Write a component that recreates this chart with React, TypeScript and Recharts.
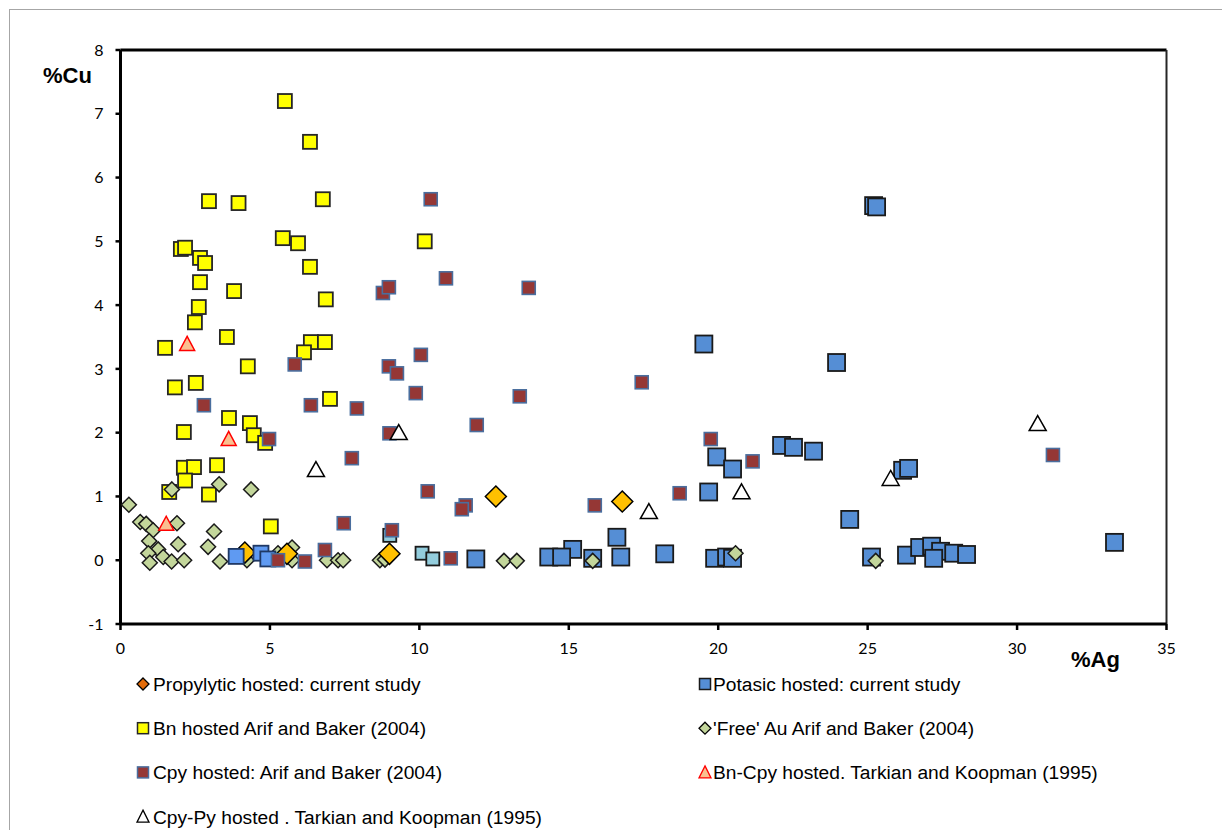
import { ScatterChart, Scatter, XAxis, YAxis, ReferenceLine, Legend, Label } from 'recharts';

// %Ag (x) vs %Cu (y) per mineral host group
const propylytic = [
  { x: 12.56, y: 1.0 }, { x: 16.79, y: 0.92 }, { x: 9.0, y: 0.1 }, { x: 4.16, y: 0.12 }, { x: 5.57, y: 0.1 },
];

const potasic = [
  { x: 25.2, y: 5.56 }, { x: 25.3, y: 5.54 }, { x: 19.52, y: 3.39 }, { x: 23.96, y: 3.1 },
  { x: 22.12, y: 1.8 }, { x: 22.52, y: 1.77 }, { x: 23.19, y: 1.71 }, { x: 19.95, y: 1.62 },
  { x: 20.48, y: 1.43 }, { x: 26.17, y: 1.41 }, { x: 26.37, y: 1.44 }, { x: 19.68, y: 1.07 },
  { x: 24.4, y: 0.64 }, { x: 16.61, y: 0.36 }, { x: 33.26, y: 0.28 }, { x: 16.74, y: 0.05 },
  { x: 18.21, y: 0.1 }, { x: 15.13, y: 0.17 }, { x: 14.33, y: 0.05 }, { x: 14.76, y: 0.05 },
  { x: 15.8, y: 0.03 }, { x: 11.89, y: 0.02 }, { x: 19.88, y: 0.03 }, { x: 20.28, y: 0.05 },
  { x: 20.48, y: 0.03 }, { x: 25.13, y: 0.05 }, { x: 26.3, y: 0.08 }, { x: 26.74, y: 0.2 },
  { x: 27.14, y: 0.22 }, { x: 27.44, y: 0.14 }, { x: 27.88, y: 0.11 }, { x: 28.31, y: 0.09 },
  { x: 27.21, y: 0.03 },
];

const potasicBright = [
  { x: 3.87, y: 0.06 }, { x: 4.7, y: 0.11 }, { x: 4.93, y: 0.02 },
];

const potasicLight = [
  { x: 10.09, y: 0.11 }, { x: 10.45, y: 0.02 }, { x: 9.01, y: 0.39 },
];

const bnArif = [
  { x: 5.5, y: 7.2 }, { x: 6.34, y: 6.56 }, { x: 2.96, y: 5.63 }, { x: 3.95, y: 5.6 },
  { x: 6.77, y: 5.66 }, { x: 5.43, y: 5.05 }, { x: 5.94, y: 4.97 }, { x: 10.18, y: 5.0 },
  { x: 2.02, y: 4.88 }, { x: 2.16, y: 4.9 }, { x: 2.66, y: 4.74 }, { x: 2.83, y: 4.66 },
  { x: 2.66, y: 4.36 }, { x: 6.34, y: 4.6 }, { x: 2.62, y: 3.97 }, { x: 3.8, y: 4.22 },
  { x: 6.87, y: 4.09 }, { x: 2.49, y: 3.73 }, { x: 1.49, y: 3.33 }, { x: 3.56, y: 3.5 },
  { x: 6.37, y: 3.42 }, { x: 6.84, y: 3.42 }, { x: 6.14, y: 3.26 }, { x: 4.26, y: 3.04 },
  { x: 1.82, y: 2.71 }, { x: 2.52, y: 2.78 }, { x: 7.01, y: 2.53 }, { x: 3.63, y: 2.23 },
  { x: 4.33, y: 2.15 }, { x: 2.12, y: 2.01 }, { x: 4.46, y: 1.96 }, { x: 4.84, y: 1.84 },
  { x: 2.12, y: 1.45 }, { x: 2.46, y: 1.46 }, { x: 3.23, y: 1.49 }, { x: 2.16, y: 1.25 },
  { x: 1.63, y: 1.07 }, { x: 2.96, y: 1.03 }, { x: 5.03, y: 0.53 },
];

const freeAu = [
  { x: 0.28, y: 0.87 }, { x: 0.66, y: 0.6 }, { x: 0.86, y: 0.57 }, { x: 1.09, y: 0.47 },
  { x: 0.96, y: 0.3 }, { x: 1.26, y: 0.17 }, { x: 0.93, y: 0.11 }, { x: 1.43, y: 0.05 },
  { x: 0.98, y: -0.04 }, { x: 1.71, y: -0.02 }, { x: 2.13, y: 0.0 }, { x: 1.89, y: 0.58 },
  { x: 1.93, y: 0.25 }, { x: 1.72, y: 1.11 }, { x: 3.3, y: 1.19 }, { x: 4.37, y: 1.11 },
  { x: 3.13, y: 0.45 }, { x: 2.93, y: 0.21 }, { x: 3.33, y: -0.02 }, { x: 5.74, y: 0.2 },
  { x: 5.27, y: 0.11 }, { x: 5.74, y: 0.0 }, { x: 4.23, y: 0.0 }, { x: 6.91, y: 0.0 },
  { x: 7.28, y: 0.0 }, { x: 7.45, y: 0.0 }, { x: 8.68, y: 0.0 }, { x: 8.85, y: 0.01 },
  { x: 12.83, y: -0.01 }, { x: 13.26, y: -0.01 }, { x: 15.8, y: -0.01 }, { x: 20.58, y: 0.11 },
  { x: 25.27, y: -0.01 },
];

const cpyArif = [
  { x: 10.38, y: 5.66 }, { x: 10.89, y: 4.42 }, { x: 13.66, y: 4.27 }, { x: 8.78, y: 4.19 },
  { x: 8.98, y: 4.28 }, { x: 10.05, y: 3.22 }, { x: 5.83, y: 3.07 }, { x: 8.98, y: 3.04 },
  { x: 9.25, y: 2.93 }, { x: 9.88, y: 2.62 }, { x: 17.44, y: 2.79 }, { x: 13.36, y: 2.57 },
  { x: 2.79, y: 2.43 }, { x: 6.37, y: 2.43 }, { x: 7.91, y: 2.38 }, { x: 11.92, y: 2.12 },
  { x: 9.0, y: 1.99 }, { x: 4.97, y: 1.9 }, { x: 19.75, y: 1.9 }, { x: 21.15, y: 1.55 },
  { x: 7.74, y: 1.6 }, { x: 10.28, y: 1.08 }, { x: 18.71, y: 1.05 }, { x: 15.87, y: 0.86 },
  { x: 11.55, y: 0.86 }, { x: 11.42, y: 0.8 }, { x: 7.47, y: 0.58 }, { x: 9.08, y: 0.47 },
  { x: 6.84, y: 0.16 }, { x: 11.05, y: 0.03 }, { x: 6.17, y: -0.02 }, { x: 5.27, y: 0.0 },
  { x: 31.2, y: 1.65 },
];

const bnCpyTarkian = [
  { x: 2.23, y: 3.4 }, { x: 3.62, y: 1.91 }, { x: 1.53, y: 0.58 },
];

const cpyPyTarkian = [
  { x: 9.31, y: 2.01 }, { x: 6.54, y: 1.43 }, { x: 17.68, y: 0.77 },
  { x: 20.78, y: 1.08 }, { x: 25.77, y: 1.29 }, { x: 30.69, y: 2.15 },
];

const xTicks = [0, 5, 10, 15, 20, 25, 30, 35];
const yTicks = [-1, 0, 1, 2, 3, 4, 5, 6, 7, 8];

const legendItems = [
  { name: 'Propylytic hosted: current study', kind: 'diamond', fill: '#e46c0a', stroke: '#000' },
  { name: 'Potasic hosted: current study', kind: 'square', fill: '#558ed5', stroke: '#1a1a1a' },
  { name: 'Bn hosted Arif and Baker (2004)', kind: 'square', fill: '#ffff00', stroke: '#262626' },
  { name: "'Free' Au Arif and Baker (2004)", kind: 'diamond', fill: '#c3d69b', stroke: '#000' },
  { name: 'Cpy hosted: Arif and Baker (2004)', kind: 'square', fill: '#953735', stroke: '#4a6e9e' },
  { name: 'Bn-Cpy hosted. Tarkian and Koopman (1995)', kind: 'triangle', fill: '#fac090', stroke: '#ff0000' },
  { name: 'Cpy-Py hosted . Tarkian and Koopman (1995)', kind: 'triangle', fill: '#ffffff', stroke: '#000' },
];

const square = (size: number, fill: string, stroke: string, sw: number) => (p: any) => {
  if (p.cx == null) return <g />;
  return (
    <rect x={p.cx - size / 2} y={p.cy - size / 2} width={size} height={size}
      fill={fill} stroke={stroke} strokeWidth={sw} />
  );
};

const diamond = (r: number, fill: string, stroke: string, sw: number) => (p: any) => {
  if (p.cx == null) return <g />;
  const { cx, cy } = p;
  return (
    <polygon points={`${cx},${cy - r} ${cx + r},${cy} ${cx},${cy + r} ${cx - r},${cy}`}
      fill={fill} stroke={stroke} strokeWidth={sw} strokeLinejoin="miter" />
  );
};

const triangle = (w: number, h: number, fill: string, stroke: string, sw: number) => (p: any) => {
  if (p.cx == null) return <g />;
  const { cx, cy } = p;
  return (
    <polygon points={`${cx},${cy - h / 2} ${cx + w / 2},${cy + h / 2} ${cx - w / 2},${cy + h / 2}`}
      fill={fill} stroke={stroke} strokeWidth={sw} />
  );
};

function legendMarker(kind: string, x: number, y: number, fill: string, stroke: string) {
  if (kind === 'square') {
    return <rect x={x - 5.5} y={y - 5.5} width={11} height={11} fill={fill} stroke={stroke} strokeWidth={1.5} />;
  }
  if (kind === 'diamond') {
    return <polygon points={`${x},${y - 6} ${x + 6},${y} ${x},${y + 6} ${x - 6},${y}`} fill={fill} stroke={stroke} strokeWidth={1.3} />;
  }
  return <polygon points={`${x},${y - 6.5} ${x + 6},${y + 5.5} ${x - 6},${y + 5.5}`} fill={fill} stroke={stroke} strokeWidth={1.3} />;
}

const renderLegend = () => (
  <svg width={1210} height={170} style={{ display: 'block' }}>
    {legendItems.map((item, i) => {
      const col = i % 2;
      const row = Math.floor(i / 2);
      const base = 21 + row * 44.2;
      const mx = col === 0 ? 133 : 695;
      const tx = col === 0 ? 143 : 703;
      return (
        <g key={item.name}>
          {legendMarker(item.kind, mx, base - 7, item.fill, item.stroke)}
          <text x={tx} y={base} fontFamily="'Liberation Sans', Arial, sans-serif" fontSize={19.2} fill="#000">
            {item.name}
          </text>
        </g>
      );
    })}
  </svg>
);

const tickStyle = { fill: '#000', fontSize: 16, fontFamily: 'Lato, sans-serif' };

export default function App() {
  return (
    <div
      style={{
        position: 'absolute', left: 9, top: 9, width: 1212, height: 820,
        borderLeft: '1px solid #a6a6a6', borderTop: '1px solid #a6a6a6', background: '#fff',
      }}
    >
      <ScatterChart width={1210} height={820} margin={{ top: 40, right: 53.5, left: 0.5, bottom: 176 }}>
        <XAxis
          type="number" dataKey="x" domain={[0, 35]} ticks={xTicks} allowDataOverflow
          height={30} tickSize={6} tickMargin={13} tick={tickStyle}
          axisLine={{ stroke: '#000', strokeWidth: 3 }} tickLine={{ stroke: '#000', strokeWidth: 2.5 }}
        >
          <Label
            content={() => (
              <text x={1061} y={657} fontFamily="'Liberation Sans', Arial, sans-serif" fontWeight="bold" fontSize={22} fill="#000">
                %Ag
              </text>
            )}
          />
        </XAxis>
        <YAxis
          type="number" dataKey="y" domain={[-1, 8]} ticks={yTicks} allowDataOverflow
          width={110} tickSize={5} tickMargin={12} tick={tickStyle}
          axisLine={{ stroke: '#000', strokeWidth: 3 }} tickLine={{ stroke: '#000', strokeWidth: 2.5 }}
        >
          <Label
            content={() => (
              <text x={33} y={73} fontFamily="'Liberation Sans', Arial, sans-serif" fontWeight="bold" fontSize={22} fill="#000">
                %Cu
              </text>
            )}
          />
        </YAxis>
        <ReferenceLine y={8} stroke="#000" strokeWidth={3} />
        <ReferenceLine x={35} stroke="#262626" strokeWidth={2} />
        <Legend layout="horizontal" verticalAlign="middle" align="center" content={renderLegend}
          wrapperStyle={{ top: 660, left: 0, width: 1210, height: 170 }} />
        <Scatter name="Potasic hosted: current study" data={potasic} isAnimationActive={false}
          shape={square(17, '#558ed5', '#1a1a1a', 1.8)} />
        <Scatter name="Potasic light" data={potasicLight} isAnimationActive={false} legendType="none"
          shape={square(13, '#93cddd', '#1a1a1a', 1.8)} />
        <Scatter name="Bn hosted Arif and Baker (2004)" data={bnArif} isAnimationActive={false}
          shape={square(14, '#ffff00', '#262626', 1.8)} />
        <Scatter name="'Free' Au Arif and Baker (2004)" data={freeAu} isAnimationActive={false}
          shape={diamond(7.5, '#c3d69b', '#1a1a1a', 1.5)} />
        <Scatter name="Propylytic hosted: current study" data={propylytic} isAnimationActive={false}
          shape={diamond(10.5, '#ffc000', '#000', 1.5)} />
        <Scatter name="Potasic bright" data={potasicBright} isAnimationActive={false} legendType="none"
          shape={square(15, '#5f9af2', '#1f3864', 1.8)} />
        <Scatter name="Cpy hosted: Arif and Baker (2004)" data={cpyArif} isAnimationActive={false}
          shape={square(13, '#953735', '#4a6e9e', 1.6)} />
        <Scatter name="Bn-Cpy hosted. Tarkian and Koopman (1995)" data={bnCpyTarkian} isAnimationActive={false}
          shape={triangle(15, 14, '#fac090', '#ff0000', 1.5)} />
        <Scatter name="Cpy-Py hosted . Tarkian and Koopman (1995)" data={cpyPyTarkian} isAnimationActive={false}
          shape={triangle(17, 15, '#ffffff', '#000', 1.5)} />
      </ScatterChart>
    </div>
  );
}
